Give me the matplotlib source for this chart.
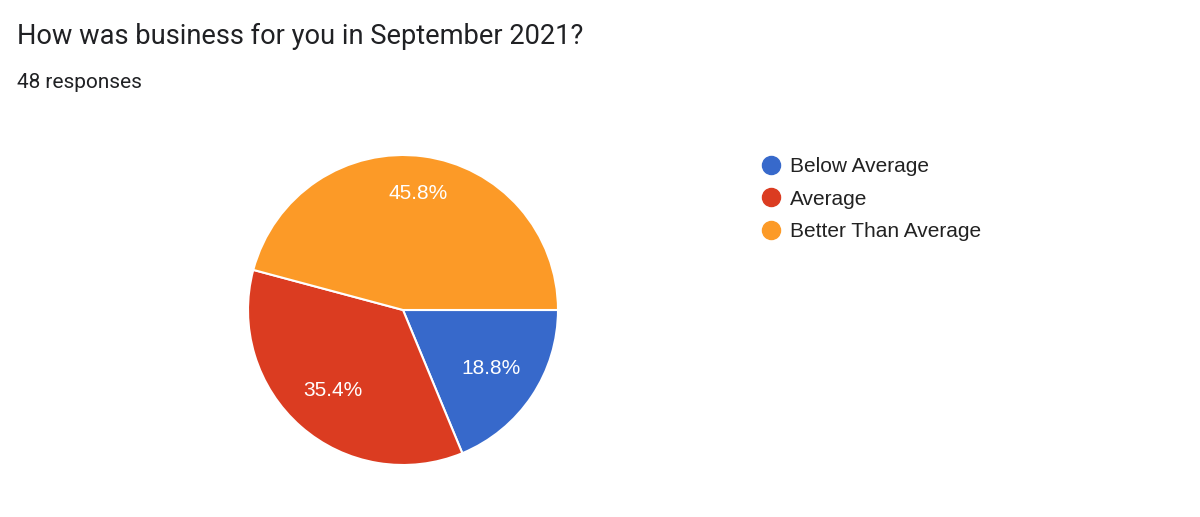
import matplotlib
matplotlib.use("Agg")
import matplotlib.pyplot as plt
from matplotlib.lines import Line2D
import numpy as np

title = "How was business for you in September 2021?"
subtitle = "48 responses"
categories = ["Below Average", "Average", "Better Than Average"]
counts = [9, 17, 22]
colors = ["#3769CB", "#DB3C21", "#FC9A27"]
pct_dist = [0.68, 0.69, 0.76]

W, H = 1200, 517
fig = plt.figure(figsize=(W / 100, H / 100), dpi=100)
fig.patch.set_facecolor("white")

fig.text(17 / W, 1 - 36 / H, title, fontsize=19.6, family="Roboto", color="#202124", va="center", ha="left")
fig.text(17 / W, 1 - 83 / H, subtitle, fontsize=15, family="Roboto", color="#202124", va="center", ha="left")

cx, cy, r = 403, 310, 155
ax = fig.add_axes([(cx - r) / W, 1 - (cy + r) / H, 2 * r / W, 2 * r / H])
wedges, texts, autotexts = ax.pie(
    counts, colors=colors, startangle=0, counterclock=False,
    autopct="%1.1f%%", pctdistance=0.7, radius=1,
    wedgeprops=dict(edgecolor="white", linewidth=1.5),
    textprops=dict(color="white", fontsize=15, family="Liberation Sans"),
)
for w, t, d in zip(wedges, autotexts, pct_dist):
    ang = np.deg2rad((w.theta1 + w.theta2) / 2)
    t.set_position((d * np.cos(ang), d * np.sin(ang)))
    t.set_ha("center"); t.set_va("center")
ax.set_xlim(-1, 1); ax.set_ylim(-1, 1)
ax.set_aspect("equal")
ax.axis("off")

handles = [Line2D([0], [0], marker="o", linestyle="none", markersize=13,
                  markerfacecolor=c, markeredgecolor=c) for c in colors]
fig.legend(handles, categories, loc="upper left", bbox_to_anchor=(752 / W, 1 - 149 / H),
           frameon=False, prop=dict(family="Liberation Sans", size=15),
           handlelength=1.0, handletextpad=0.4, labelspacing=0.64, borderaxespad=0,
           labelcolor="#222222")

fig.savefig("out.png", dpi=100, facecolor="white")
